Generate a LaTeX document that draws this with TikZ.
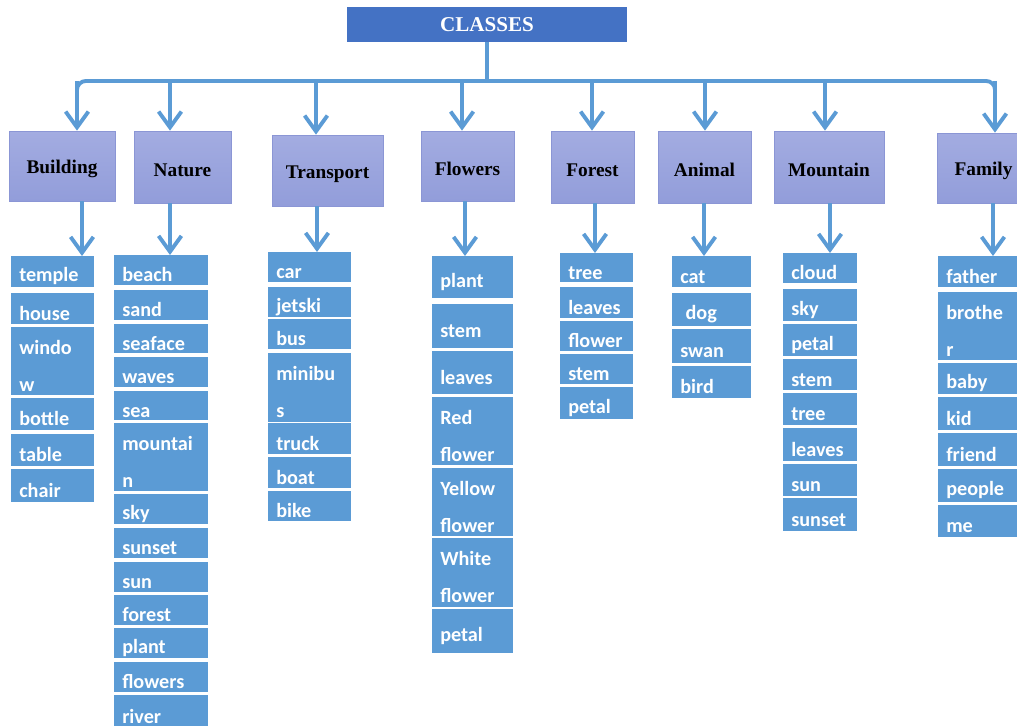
\documentclass[tikz,border=0pt]{standalone}
\usepackage{fontspec}
\setmainfont{Liberation Serif}
\newfontfamily\cellfont{Carlito}
\usepackage{xcolor}
\usetikzlibrary{arrows.meta,positioning,calc}

\definecolor{lineblue}{HTML}{5B9BD5}
\definecolor{cellblue}{HTML}{5B9BD5}
\definecolor{headblue}{HTML}{4472C4}
\definecolor{cattop}{HTML}{A3ACE1}
\definecolor{catbot}{HTML}{929DDA}
\definecolor{catline}{HTML}{8B96D5}

\tikzset{
  px/.style={x=0.02cm,y=-0.02cm},
  head/.style={fill=headblue,text=white,font=\bfseries\fontsize{12}{14}\selectfont,inner sep=0pt},
  catbox/.style={top color=cattop,bottom color=catbot,draw=catline,line width=0.4pt,
    font=\bfseries\fontsize{11}{13}\selectfont,inner sep=0pt,text height=11pt},
  cell/.style={fill=cellblue,text=white,font=\cellfont\bfseries\fontsize{11.5}{21}\selectfont,
    align=left,inner xsep=4.5pt,inner ysep=0pt,text height=13pt,anchor=north west},
  link/.style={lineblue,line width=2.2pt},
  arr/.style={link,-{Straight Barb[length=9pt,width=13pt]}},
}

\begin{document}
\begin{tikzpicture}[px]
\useasboundingbox (0,0) rectangle (1017,726);
\clip (0,0) rectangle (1017,726);

% title and bus
\node[head,minimum width=280*0.569pt,minimum height=35*0.569pt] (title) at (487,24.5) {CLASSES};
\coordinate (busL) at (77,81);
\coordinate (busR) at (995,81);
\draw[link] (title.south) -- (title.south |- busL);
\draw[link,rounded corners=5] (77,100) -- (busL) -- (busR) -- (995,100);

% classes
\foreach \nm/\xa/\ya/\xb/\yb/\ax/\txt in {
  bld/9/131/115/201/77/Building,
  nat/134/131/231/203/170/Nature,
  trn/272/135/383/206/316/Transport,
  flw/421/131/514/201/462/Flowers,
  frs/551/131/634/203/592/Forest,
  ani/658/131/751/203/705/Animal,
  mtn/774/131/884/203/825/Mountain,
  fam/937/133/1030/203/995/Family}{
  \node[catbox,minimum width={(\xb-\xa)*0.569pt},minimum height={(\yb-\ya)*0.569pt}]
    (\nm) at ({(\xa+\xb)/2},{(\ya+\yb)/2}) {\txt};
  \draw[arr] (\ax,81) -- (\ax,0 |- \nm.north);
}

% word lists
\foreach \ya/\yb/\txt [count=\i] in {256/287/temple,293/324/house,327/395/{windo\\w},
  398/430/bottle,434/466/table,469/502/chair}
  \node[cell,text width=38pt,minimum height={(\yb-\ya)*0.569pt}] (bld-\i) at (11,\ya) {\txt};
\foreach \ya/\yb/\txt [count=\i] in {255/285/beach,290/320/sand,324/353/seaface,357/387/waves,
  391/420/sea,423/491/{mountai\\n},494/524/sky,528/558/sunset,562/592/sun,595/625/forest,
  628/658/plant,662/692/flowers,695/728/river}
  \node[cell,text width=44.5pt,minimum height={(\yb-\ya)*0.569pt}] (nat-\i) at (114,\ya) {\txt};
\foreach \ya/\yb/\txt [count=\i] in {252/282/car,287/317/jetski,319/349/bus,353/422/{minibu\\s},
  423/454/truck,457/488/boat,491/521/bike}
  \node[cell,text width=38pt,minimum height={(\yb-\ya)*0.569pt}] (trn-\i) at (268,\ya) {\txt};
\foreach \ya/\yb/\txt [count=\i] in {256/298/plant,304/348/stem,351/394/leaves,397/465/{Red\\flower},
  468/536/{Yellow\\flower},538/607/{White\\flower},609/653/petal}
  \node[cell,text width=37pt,minimum height={(\yb-\ya)*0.569pt}] (flw-\i) at (432,\ya) {\txt};
\foreach \ya/\yb/\txt [count=\i] in {253/282/tree,287/318/leaves,321/351/flower,354/384/stem,387/419/petal}
  \node[cell,text width=32.5pt,minimum height={(\yb-\ya)*0.569pt}] (frs-\i) at (560,\ya) {\txt};
\foreach \ya/\yb/\txt [count=\i] in {256/287/cat,293/326/{\hspace{3pt}dog},329/363/swan,366/398/bird}
  \node[cell,text width=35.5pt,minimum height={(\yb-\ya)*0.569pt}] (ani-\i) at (672,\ya) {\txt};
\foreach \ya/\yb/\txt [count=\i] in {253/283/cloud,289/321/sky,324/356/petal,359/390/stem,
  393/425/tree,428/461/leaves,464/496/sun,498/531/sunset}
  \node[cell,text width=33pt,minimum height={(\yb-\ya)*0.569pt}] (mtn-\i) at (783,\ya) {\txt};
\foreach \ya/\yb/\txt [count=\i] in {256/287/father,292/360/{brothe\\r},363/394/baby,397/430/kid,
  433/466/friend,469/502/people,505/537/me}
  \node[cell,text width=43pt,minimum height={(\yb-\ya)*0.569pt}] (fam-\i) at (938,\ya) {\txt};

% class -> list
\foreach \nm/\bx in {bld/82,nat/170,trn/317,flw/465,frs/595,ani/704,mtn/830,fam/993}
  \draw[arr] (\bx,0 |- \nm.south) -- (\bx,0 |- \nm-1.north);
\end{tikzpicture}
\end{document}
